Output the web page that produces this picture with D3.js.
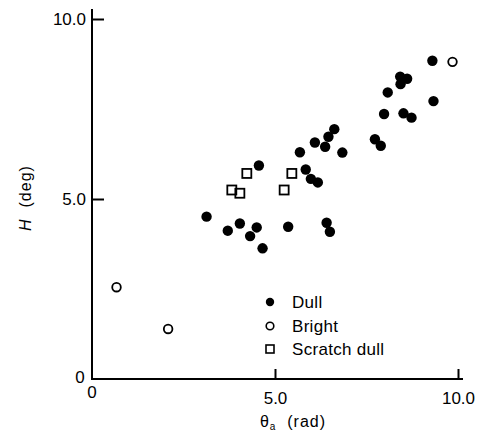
<!DOCTYPE html>
<html>
<head>
<meta charset="utf-8">
<script src="https://cdn.jsdelivr.net/npm/d3@7"></script>
<style>
  body { margin: 0; background: #fff; }
  svg text { font-family: "Liberation Sans", Arial, sans-serif; fill: #000; }
</style>
</head>
<body>
<svg id="chart" width="479" height="435"></svg>
<script>
// theta_a (rad) vs H (deg)
const dullX = [9.30, 8.42, 8.61, 8.43, 8.08, 9.33, 7.98, 8.51, 8.73, 7.73, 7.89,
               6.62, 6.46, 6.09, 6.37, 6.84, 5.68, 5.84, 5.98, 6.17, 4.56,
               3.13, 3.71, 4.04, 4.50, 4.32, 5.36, 6.41, 6.50, 4.66];
const dullY = [8.84, 8.40, 8.34, 8.19, 7.96, 7.72, 7.36, 7.38, 7.26, 6.66, 6.48,
               6.94, 6.73, 6.57, 6.45, 6.29, 6.30, 5.82, 5.56, 5.46, 5.93,
               4.51, 4.12, 4.32, 4.21, 3.97, 4.23, 4.34, 4.09, 3.63];
const brightX = [0.67, 2.08, 9.85];
const brightY = [2.55, 1.39, 8.81];
const scratchX = [4.23, 5.46, 3.82, 4.04, 5.25];
const scratchY = [5.71, 5.71, 5.25, 5.16, 5.25];
const legendLabels = ["Dull", "Bright", "Scratch dull"];
const xTicks = [5, 10];
const yTicks = [5, 10];

const svg = d3.select("#chart");
const x = d3.scaleLinear().domain([0, 10]).range([92, 458]);
const y = d3.scaleLinear().domain([0, 10]).range([379, 19]);

const zip = (a, b) => a.map((v, i) => [v, b[i]]);

// axis lines (extend a little past 10)
svg.append("line")
    .attr("x1", x(0)).attr("x2", x(10) + 5)
    .attr("y1", y(0)).attr("y2", y(0))
    .attr("stroke", "#000").attr("stroke-width", 2);
svg.append("line")
    .attr("x1", x(0)).attr("x2", x(0))
    .attr("y1", y(0) + 1).attr("y2", y(10) - 10)
    .attr("stroke", "#000").attr("stroke-width", 2);

// ticks pointing inward
const xAxis = d3.axisBottom(x).tickValues(xTicks).tickSize(-10).tickPadding(13)
    .tickFormat(d3.format(".1f"));
const yAxis = d3.axisLeft(y).tickValues(yTicks).tickSize(-12).tickPadding(6)
    .tickFormat(d3.format(".1f"));

const xg = svg.append("g").attr("transform", `translate(0,${y(0)})`).call(xAxis);
const yg = svg.append("g").attr("transform", `translate(${x(0)},0)`).call(yAxis);
[xg, yg].forEach(g => {
  g.select(".domain").remove();
  g.selectAll(".tick line").attr("stroke", "#000").attr("stroke-width", 2);
  g.selectAll(".tick text").attr("font-size", 17).attr("font-family", "Liberation Sans, Arial, sans-serif").attr("fill", "#000");
});

// zero labels
svg.append("text").attr("x", x(0) - 12).attr("y", y(0) + 4)
    .attr("text-anchor", "middle").attr("font-size", 17).text("0");
svg.append("text").attr("x", x(0)).attr("y", y(0) + 19)
    .attr("text-anchor", "middle").attr("font-size", 17).text("0");

// axis titles
const xt = svg.append("text").attr("x", 293).attr("y", 427)
    .attr("text-anchor", "middle").attr("font-size", 16).attr("letter-spacing", 1);
xt.append("tspan").text("θ");
xt.append("tspan").attr("font-size", 10).attr("dy", 3).text("a");
xt.append("tspan").attr("dy", -3).text("  (rad)").attr("xml:space", "preserve");

const yt = svg.append("text")
    .attr("transform", "translate(31,198) rotate(-90)")
    .attr("text-anchor", "middle").attr("font-size", 16).attr("letter-spacing", 1);
yt.append("tspan").attr("font-style", "italic").text("H");
yt.append("tspan").attr("xml:space", "preserve").text("  (deg)");

// points
svg.append("g").selectAll("circle").data(zip(dullX, dullY)).join("circle")
    .attr("cx", d => x(d[0])).attr("cy", d => y(d[1])).attr("r", 5.2)
    .attr("fill", "#000");
svg.append("g").selectAll("circle").data(zip(brightX, brightY)).join("circle")
    .attr("cx", d => x(d[0])).attr("cy", d => y(d[1])).attr("r", 4.3)
    .attr("fill", "none").attr("stroke", "#000").attr("stroke-width", 1.8);
svg.append("g").selectAll("rect").data(zip(scratchX, scratchY)).join("rect")
    .attr("x", d => x(d[0]) - 4.5).attr("y", d => y(d[1]) - 4.5)
    .attr("width", 9).attr("height", 9)
    .attr("fill", "none").attr("stroke", "#000").attr("stroke-width", 1.8);

// legend
const legY = [302, 326, 349];
const leg = svg.append("g");
leg.append("circle").attr("cx", 270).attr("cy", legY[0]).attr("r", 4.2).attr("fill", "#000");
leg.append("circle").attr("cx", 270).attr("cy", legY[1]).attr("r", 3.8)
    .attr("fill", "none").attr("stroke", "#000").attr("stroke-width", 1.6);
leg.append("rect").attr("x", 266).attr("y", legY[2] - 4).attr("width", 8).attr("height", 8)
    .attr("fill", "none").attr("stroke", "#000").attr("stroke-width", 1.6);
leg.selectAll("text").data(legendLabels).join("text")
    .attr("x", 292).attr("y", (d, i) => legY[i] + 6)
    .attr("font-size", 17).attr("letter-spacing", 0.3).text(d => d);
</script>
</body>
</html>
